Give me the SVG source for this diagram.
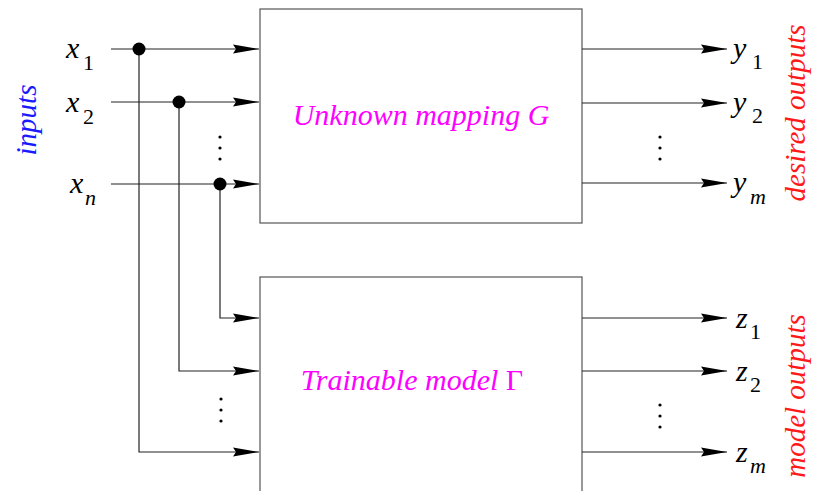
<svg xmlns="http://www.w3.org/2000/svg" width="823" height="491" viewBox="0 0 823 491">
<defs>
<style>
.box{fill:#fff;stroke:#555;stroke-width:1.2}
.ln{fill:none;stroke:#222;stroke-width:1.2}
.dot{fill:#000}
</style>
<marker id="ah" markerUnits="userSpaceOnUse" viewBox="0 0 26 10" refX="26" refY="5" markerWidth="26" markerHeight="10" orient="auto">
<path d="M0,0.6 L26,5 L0,9.4 L3,5 z" fill="#000"/>
</marker>
</defs>
<rect width="823" height="491" fill="#fff"/>
<g id="unknown-mapping">
<rect class="box" x="260" y="9" width="322" height="214"/>
<text font-family="'Liberation Serif', serif" font-style="italic" font-size="30" fill="#ff00ff" x="421" y="125" text-anchor="middle">Unknown mapping G</text>
</g>
<g id="trainable-model">
<rect class="box" x="260" y="277" width="322" height="230"/>
<text font-family="'Liberation Serif', serif" font-style="italic" font-size="30" fill="#ff00ff" x="412" y="390" text-anchor="middle">Trainable model <tspan font-style="normal">Γ</tspan></text>
</g>
<g id="connectors">
<path class="ln" d="M111,49 H259" marker-end="url(#ah)"/>
<path class="ln" d="M111,102 H259" marker-end="url(#ah)"/>
<path class="ln" d="M111,184 H259" marker-end="url(#ah)"/>
<path class="ln" d="M139,49 V452 H259" marker-end="url(#ah)"/>
<path class="ln" d="M179,102 V371 H259" marker-end="url(#ah)"/>
<path class="ln" d="M220,184 V318 H259" marker-end="url(#ah)"/>
<path class="ln" d="M582,49 H727" marker-end="url(#ah)"/>
<path class="ln" d="M582,103 H727" marker-end="url(#ah)"/>
<path class="ln" d="M582,183 H727" marker-end="url(#ah)"/>
<path class="ln" d="M582,318 H727" marker-end="url(#ah)"/>
<path class="ln" d="M582,371 H727" marker-end="url(#ah)"/>
<path class="ln" d="M582,452 H727" marker-end="url(#ah)"/>
<circle class="dot" cx="139" cy="49" r="6.5"/>
<circle class="dot" cx="179" cy="102" r="6.5"/>
<circle class="dot" cx="220" cy="184" r="6.5"/>
</g>
<g id="ellipses">
<circle class="dot" cx="220" cy="137" r="1.6"/><circle class="dot" cx="220" cy="148" r="1.6"/><circle class="dot" cx="220" cy="159" r="1.6"/>
<circle class="dot" cx="660" cy="137" r="1.6"/><circle class="dot" cx="660" cy="148" r="1.6"/><circle class="dot" cx="660" cy="159" r="1.6"/>
<circle class="dot" cx="221" cy="399" r="1.6"/><circle class="dot" cx="221" cy="410" r="1.6"/><circle class="dot" cx="221" cy="421" r="1.6"/>
<circle class="dot" cx="660" cy="405" r="1.6"/><circle class="dot" cx="660" cy="416" r="1.6"/><circle class="dot" cx="660" cy="427" r="1.6"/>
</g>
<g id="input-labels" font-family="'Liberation Serif', serif" fill="#000">
<text font-style="italic" font-size="30" x="66" y="58">x</text><text font-size="22" x="83" y="70">1</text>
<text font-style="italic" font-size="30" x="66" y="112">x</text><text font-size="22" x="83" y="124">2</text>
<text font-style="italic" font-size="30" x="70" y="193">x</text><text font-style="italic" font-size="22" x="85" y="205">n</text>
</g>
<g id="output-labels" font-family="'Liberation Serif', serif" fill="#000">
<text font-style="italic" font-size="30" x="733" y="58">y</text><text font-size="22" x="752" y="69">1</text>
<text font-style="italic" font-size="30" x="733" y="112">y</text><text font-size="22" x="752" y="123">2</text>
<text font-style="italic" font-size="30" x="733" y="192">y</text><text font-style="italic" font-size="22" x="750" y="204">m</text>
<text font-style="italic" font-size="30" x="736" y="328">z</text><text font-size="22" x="750" y="339">1</text>
<text font-style="italic" font-size="30" x="736" y="381">z</text><text font-size="22" x="750" y="392">2</text>
<text font-style="italic" font-size="30" x="736" y="462">z</text><text font-style="italic" font-size="22" x="750" y="473">m</text>
</g>
<g id="side-labels" font-family="'Liberation Serif', serif" font-style="italic" font-size="29">
<text transform="translate(36,120) rotate(-90)" text-anchor="middle" fill="#1a1aff">inputs</text>
<text transform="translate(805,113) rotate(-90)" text-anchor="middle" fill="#ff1a1a">desired outputs</text>
<text transform="translate(805,396) rotate(-90)" text-anchor="middle" fill="#ff1a1a">model outputs</text>
</g>
</svg>
